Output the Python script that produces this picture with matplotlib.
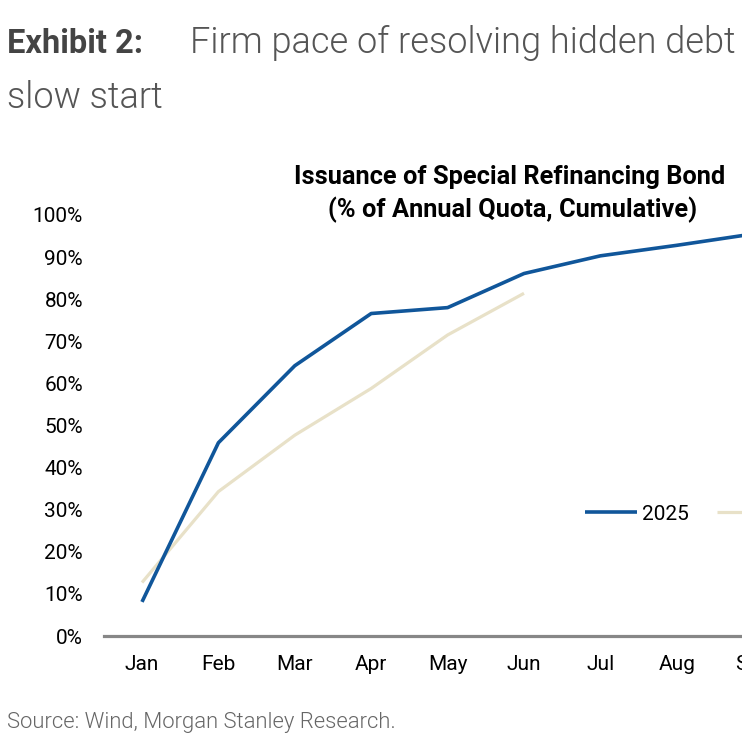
import matplotlib
matplotlib.use("Agg")
import matplotlib.pyplot as plt

# data
months = ["Jan", "Feb", "Mar", "Apr", "May", "Jun", "Jul", "Aug", "Sep", "Oct", "Nov", "Dec"]
s2025 = [8.1, 45.9, 64.2, 76.6, 78.0, 86.1, 90.3, 92.8, 95.5]
s2024 = [12.7, 34.3, 47.7, 58.8, 71.5, 81.4]
yticks = list(range(0, 101, 10))

W, H = 742, 744
BLUE = "#10569A"
BEIGE = "#E8E1C8"
GREY_AX = "#878787"

plt.rcParams["font.family"] = ["Roboto", "DejaVu Sans"]

fig = plt.figure(figsize=(W / 100, H / 100), dpi=100)


def fx(px):
    return px / W


def fy(py):
    return 1 - py / H


# axes box: 0% at 636px, 100% at 215px, ~76.4px per month,
# runs on past the right edge of the picture (the reference is cropped there)
step = 76.4
left_px = 142 - 0.5 * step
right_px = 142 + 11.5 * step
ax = fig.add_axes([fx(left_px), fy(636), fx(right_px - left_px), (636 - 215) / H])

x = list(range(len(months)))
ax.plot(x[:len(s2025)], s2025, color=BLUE, lw=2.6, solid_capstyle="butt", label="2025", zorder=3)
ax.plot(x[:len(s2024)], s2024, color=BEIGE, lw=2.3, solid_capstyle="butt", label="2024", zorder=2)

ax.set_xlim(-0.5, 11.5)
ax.set_ylim(0, 100)
ax.set_xticks(x)
ax.set_xticklabels(months)
ax.set_yticks(yticks)
ax.set_yticklabels([f"{v}%" for v in yticks])
ax.tick_params(axis="both", length=0, labelsize=15, colors="black")
ax.tick_params(axis="y", pad=15)
ax.tick_params(axis="x", pad=14)
for side in ("top", "right", "left"):
    ax.spines[side].set_visible(False)
ax.spines["bottom"].set_color(GREY_AX)
ax.spines["bottom"].set_linewidth(2.3)
ax.set_facecolor("none")

leg = ax.legend(loc="center left", bbox_to_anchor=(fx(585), fy(514)), bbox_transform=fig.transFigure,
                ncol=2, frameon=False, fontsize=15, handlelength=2.5, handletextpad=0.24,
                columnspacing=1.35, borderpad=0, borderaxespad=0)

# chart title
fig.text(fx(510), fy(184), "Issuance of Special Refinancing Bond", ha="center", va="baseline",
         fontsize=18.3, fontweight="bold", color="black")
fig.text(fx(513), fy(217), "(% of Annual Quota, Cumulative)", ha="center", va="baseline",
         fontsize=18.3, fontweight="bold", color="black")

# exhibit header
fig.text(fx(7), fy(53), "Exhibit 2:", ha="left", va="baseline", fontsize=23.5,
         fontweight="bold", color="#444444")
fig.text(fx(190), fy(53), "Firm pace of resolving hidden debt", ha="left", va="baseline", fontsize=26,
         fontweight=300, color="#555555")
fig.text(fx(7), fy(108), "slow start", ha="left", va="baseline", fontsize=26,
         fontweight=300, color="#555555")

fig.text(fx(7), fy(728), "Source: Wind, Morgan Stanley Research.", ha="left", va="baseline", fontsize=15.8,
         fontweight=300, color="#666666")

fig.savefig("out.png", dpi=100)
